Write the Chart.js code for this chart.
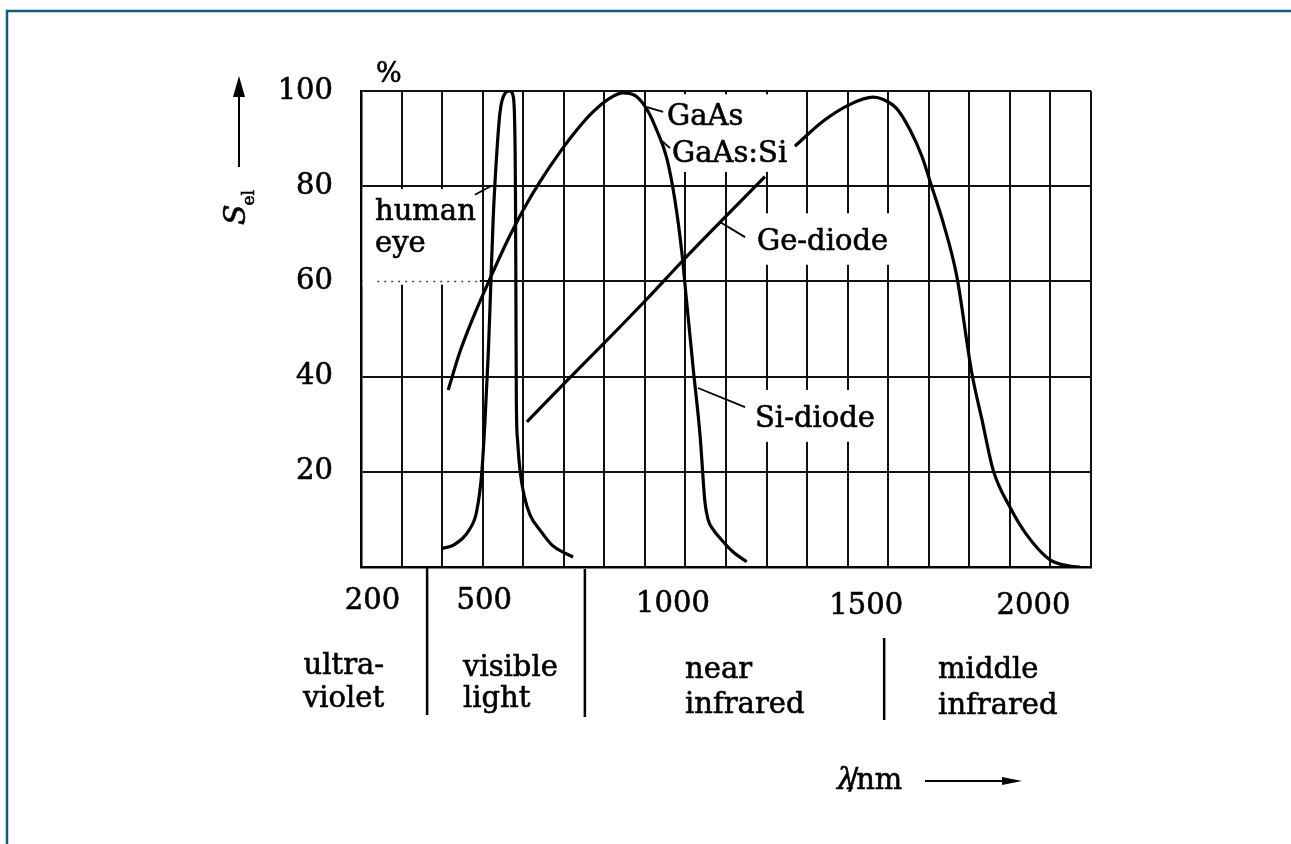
<!DOCTYPE html>
<html>
<head>
<meta charset="utf-8">
<title>Relative spectral sensitivity</title>
<script src="https://cdn.jsdelivr.net/npm/chart.js@4/dist/chart.umd.min.js"></script>
<style>
  html, body { margin: 0; padding: 0; background: #fff; }
  #wrap { position: relative; width: 1291px; height: 844px; }
  canvas { display: block; }
</style>
</head>
<body>
<div id="wrap"><canvas id="chart" width="1291" height="844"></canvas></div>
<script>
// Relative spectral sensitivity S_el (%) versus wavelength (nm)

// human eye
const eyeNm  = [399, 428, 469, 485, 498, 506, 514, 520, 526, 535, 543, 555, 567, 575, 578, 580, 581, 582, 583, 586, 592, 602, 617, 641, 671, 703, 723];
const eyePct = [3.9, 4.6, 8.1, 11.6, 20.0, 31.2, 45.2, 59.2, 73.3, 87.2, 95.7, 99.5, 100, 99.0, 96.0, 87.6, 77.1, 56.1, 35.1, 26.7, 20.4, 15.1, 10.9, 7.8, 4.6, 2.9, 2.1];

// Si photodiode
const siNm  = [415, 444, 476, 522, 563, 600, 641, 691, 732, 772, 814, 846, 880, 908, 930, 954, 974, 991, 1003, 1019, 1036, 1048, 1056, 1069, 1085, 1117, 1151];
const siPct = [37.2, 45.2, 52.3, 61.3, 68.9, 75.0, 80.9, 87.2, 91.8, 95.6, 98.5, 99.6, 98.8, 95.7, 91.6, 85.9, 77.1, 66.2, 55.7, 41.8, 27.7, 13.7, 9.9, 7.8, 6.1, 3.2, 1.1];

// Ge photodiode (the curve is hidden behind the GaAs:Si label at 1233 nm)
const geNm  = [609, 691, 806, 905, 995, 1085, 1196, 1233, 1270, 1340, 1406, 1463, 1488, 1521, 1554, 1583, 1607, 1636, 1669, 1706, 1731, 1759, 1800, 1842, 1899, 1948, 1973];
const gePct = [30.5, 37.7, 47.6, 56.3, 64.5, 72.4, 82.0, null, 88.4, 93.7, 97.2, 98.7, 98.2, 96.3, 91.8, 86.3, 80.0, 72.2, 61.1, 40.8, 31.0, 20.3, 12.6, 6.7, 1.5, 0.2, 0];

// axis ticks
const xTicks = [200, 500, 1000, 1500, 2000];
const yTicks = [20, 40, 60, 80, 100];

// spectral regions below the axis
const regionBounds = [363, 752, 1490];
const regionNames = [["ultra-", "violet"], ["visible", "light"], ["near", "infrared"], ["middle", "infrared"]];

// curve annotations: text, anchor (nm, %), leader from/to (nm, %)
const curveLabels = [
  { lines: ["human", "eye"], at: [234.5, 72.9], leader: [[481, 78.2], [522, 80.1]] },
  { lines: ["GaAs"], at: [954.5, 92.9], leader: [[905, 96.6], [945, 95.6]] },
  { lines: ["GaAs:Si"], at: [966.8, 85.1], leader: [[942, 89.5], [962, 88.0]] },
  { lines: ["Ge-diode"], at: [1176.4, 66.6], leader: [[1085, 72.5], [1147, 69.3]] },
  { lines: ["Si-diode"], at: [1171.5, 29.4], leader: [[1031, 37.6], [1147, 33.6]] }
];
// white areas behind the annotations [nm0, nm1, pct0, pct1]
const labelBoxes = [
  [204, 493, 59.3, 79.4],
  [954, 1275, 83.0, 99.3],
  [1160, 1505, 63.5, 74.3],
  [1160, 1478, 26.3, 37.2]
];

const SERIF = '"DejaVu Serif", "Liberation Serif", serif';
const FONT = '29px ' + SERIF;
const INK = 0.6;   // slight stroke so the type has the weight of the printed figure

const toPoints = (xs, ys) => xs.map((x, i) => ({ x: x, y: ys[i] }));

function ink(ctx, text, x, y) {
  ctx.fillText(text, x, y);
  ctx.lineWidth = INK;
  ctx.strokeText(text, x, y);
}

const figurePlugin = {
  id: 'figure',
  beforeDraw(chart) {
    const ctx = chart.ctx;
    ctx.save();
    ctx.fillStyle = '#fff';
    ctx.fillRect(0, 0, chart.width, chart.height);
    // page frame
    ctx.strokeStyle = '#125a79';
    ctx.lineWidth = 2.5;
    ctx.beginPath();
    ctx.moveTo(7, chart.height);
    ctx.lineTo(7, 11);
    ctx.lineTo(chart.width, 11);
    ctx.stroke();
    ctx.restore();
  },
  beforeDatasetsDraw(chart) {
    const ctx = chart.ctx, xs = chart.scales.x, ys = chart.scales.y;
    ctx.save();
    ctx.fillStyle = '#fff';
    labelBoxes.forEach(b => {
      const x0 = xs.getPixelForValue(b[0]), x1 = xs.getPixelForValue(b[1]);
      const y0 = ys.getPixelForValue(b[3]), y1 = ys.getPixelForValue(b[2]);
      ctx.fillRect(x0, y0, x1 - x0, y1 - y0);
    });
    // 60 % line runs dotted under the "human eye" text
    ctx.strokeStyle = '#444';
    ctx.lineWidth = 1.5;
    ctx.setLineDash([2, 5]);
    ctx.beginPath();
    ctx.moveTo(xs.getPixelForValue(240), ys.getPixelForValue(60));
    ctx.lineTo(xs.getPixelForValue(500), ys.getPixelForValue(60));
    ctx.stroke();
    ctx.restore();
  },
  afterDatasetsDraw(chart) {
    const ctx = chart.ctx, xs = chart.scales.x, ys = chart.scales.y, ca = chart.chartArea;
    const X = v => xs.getPixelForValue(v), Y = v => ys.getPixelForValue(v);
    ctx.save();
    ctx.fillStyle = '#000';
    ctx.strokeStyle = '#000';
    ctx.font = FONT;
    ctx.textBaseline = 'alphabetic';

    // curve annotations
    curveLabels.forEach(l => {
      ctx.textAlign = 'left';
      l.lines.forEach((t, i) => ink(ctx, t, X(l.at[0]), Y(l.at[1]) + i * 32));
      ctx.lineWidth = 1.8;
      ctx.beginPath();
      ctx.moveTo(X(l.leader[0][0]), Y(l.leader[0][1]));
      ctx.lineTo(X(l.leader[1][0]), Y(l.leader[1][1]));
      ctx.stroke();
    });

    // unit above the value axis
    ctx.font = '27px ' + SERIF;
    ctx.textAlign = 'left';
    ink(ctx, '%', ca.left + 15, ca.top - 9);

    // value axis title S_el with arrow
    ctx.save();
    ctx.translate(ca.left - 116, ca.top + 134);
    ctx.rotate(-Math.PI / 2);
    ctx.font = 'italic 30px ' + SERIF;
    ink(ctx, 'S', 0, 0);
    const sw = ctx.measureText('S').width;
    ctx.font = '17px ' + SERIF;
    ink(ctx, 'el', sw - 1, 9);
    ctx.restore();
    const ax = ca.left - 122;
    ctx.lineWidth = 2;
    ctx.beginPath();
    ctx.moveTo(ax, ca.top + 76);
    ctx.lineTo(ax, ca.top - 2);
    ctx.stroke();
    ctx.beginPath();
    ctx.moveTo(ax, ca.top - 15);
    ctx.lineTo(ax - 6, ca.top + 6);
    ctx.lineTo(ax + 6, ca.top + 6);
    ctx.closePath();
    ctx.fill();

    // wavelength tick labels
    const tickShift = [11.5, 1.5, -12.5, -22, -57.5];
    const tickDrop = [42, 42, 45, 47, 47];
    ctx.font = FONT;
    ctx.textAlign = 'center';
    xTicks.forEach((v, i) => ink(ctx, String(v), X(v) + tickShift[i], ca.bottom + tickDrop[i]));

    // spectral region dividers
    const divTop = [0, 2, 71], divBottom = [148, 150, 153];
    regionBounds.forEach((v, i) => {
      ctx.lineWidth = 2.5;
      ctx.beginPath();
      ctx.moveTo(X(v), ca.bottom + divTop[i]);
      ctx.lineTo(X(v), ca.bottom + divBottom[i]);
      ctx.stroke();
    });

    // spectral region names
    const nameAt = [257, 451.5, 999, 1623];
    const nameAlign = ['right', 'left', 'left', 'left'];
    const line1 = [107, 109, 111, 111], line2 = [140, 140, 146, 147];
    regionNames.forEach((n, i) => {
      ctx.textAlign = nameAlign[i];
      ink(ctx, n[0], X(nameAt[i]), ca.bottom + line1[i]);
      ink(ctx, n[1], X(nameAt[i]), ca.bottom + line2[i]);
    });

    // wavelength axis title with arrow
    ctx.textAlign = 'left';
    const tx = ca.left + 476, ty = ca.bottom + 222;
    ctx.font = 'italic 29px ' + SERIF;
    ink(ctx, 'λ', tx, ty);
    const lw = ctx.measureText('λ').width;
    ctx.font = FONT;
    ink(ctx, '/', tx + lw - 7, ty);
    const slw = ctx.measureText('/').width;
    ink(ctx, 'nm', tx + lw - 7 + slw - 2, ty);
    const ay = ca.bottom + 214;
    ctx.lineWidth = 2;
    ctx.beginPath();
    ctx.moveTo(ca.left + 564, ay);
    ctx.lineTo(ca.left + 646, ay);
    ctx.stroke();
    ctx.beginPath();
    ctx.moveTo(ca.left + 661, ay);
    ctx.lineTo(ca.left + 641, ay - 4);
    ctx.lineTo(ca.left + 641, ay + 4);
    ctx.closePath();
    ctx.fill();
    ctx.restore();
  }
};

const curveStyle = { borderColor: '#000', borderWidth: 3.2, pointRadius: 0, cubicInterpolationMode: 'monotone', fill: false };

new Chart(document.getElementById('chart'), {
  type: 'line',
  data: {
    datasets: [
      Object.assign({ label: 'human eye', data: toPoints(eyeNm, eyePct) }, curveStyle),
      Object.assign({ label: 'Si-diode', data: toPoints(siNm, siPct) }, curveStyle),
      Object.assign({ label: 'Ge-diode', data: toPoints(geNm, gePct) }, curveStyle)
    ]
  },
  options: {
    responsive: false,
    animation: false,
    events: [],
    layout: { padding: { top: 91, right: 200, bottom: 0, left: 0 } },
    plugins: { legend: { display: false }, tooltip: { enabled: false } },
    scales: {
      x: {
        type: 'linear',
        min: 200,
        max: 2000,
        ticks: { stepSize: 100, display: false },
        grid: { color: '#111', lineWidth: 2, drawTicks: false },
        border: { color: '#000', width: 2.5 },
        afterFit(scale) { scale.height = 277; }
      },
      y: {
        min: 0,
        max: 100,
        afterBuildTicks(scale) { scale.ticks = [0].concat(yTicks).map(v => ({ value: v })); },
        ticks: {
          padding: 28,
          color: '#000',
          textStrokeColor: '#000',
          textStrokeWidth: INK,
          font: { family: 'DejaVu Serif', size: 29 },
          callback: v => (yTicks.includes(v) ? String(v) : '')
        },
        grid: { color: '#111', lineWidth: 2, drawTicks: false },
        border: { color: '#000', width: 2.5 },
        afterFit(scale) { scale.width = 361; }
      }
    }
  },
  plugins: [figurePlugin]
});
</script>
</body>
</html>
